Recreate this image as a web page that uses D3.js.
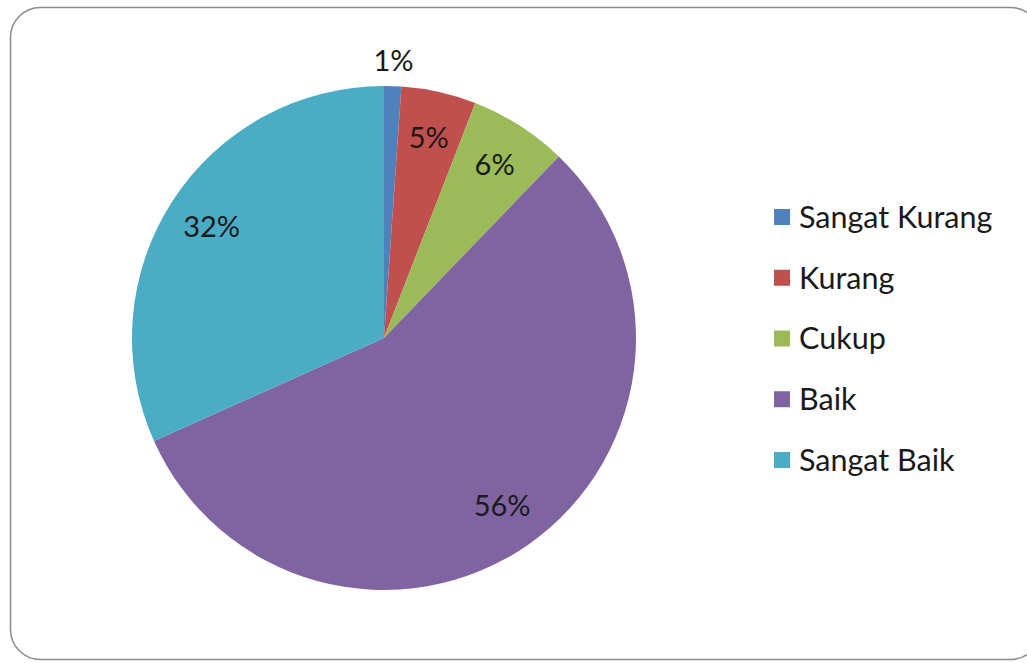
<!DOCTYPE html>
<html><head><meta charset="utf-8">
<script src="https://cdn.jsdelivr.net/npm/d3@7"></script>
<style>html,body{margin:0;padding:0;background:#fff;}svg{display:block;}</style>
</head><body>
<svg id="c" width="1027" height="663"></svg>
<script>
const categories = ["Sangat Kurang", "Kurang", "Cukup", "Baik", "Sangat Baik"];
const values = [1.1, 4.8, 6.3, 56.1, 31.7];
const colors = ["#4F81BD", "#C0504D", "#9BBB59", "#8064A2", "#4BACC6"];

const svg = d3.select("#c");
const font = "Lato, 'Open Sans', sans-serif";

svg.append("rect").attr("x", 10.5).attr("y", 7.5).attr("width", 1030).attr("height", 652)
  .attr("rx", 30).attr("ry", 30).attr("fill", "#fff").attr("stroke", "#8c8c8c").attr("stroke-width", 1.5);

const cx = 384, cy = 338, R = 252;
const total = d3.sum(values);
const pie = d3.pie().sort(null).value(d => d)(values);
const arc = d3.arc().innerRadius(0).outerRadius(R);
const g = svg.append("g").attr("transform", `translate(${cx},${cy})`);
g.selectAll("path").data(pie).join("path")
  .attr("d", arc).attr("fill", (d, i) => colors[i]);

g.selectAll("text").data(pie).join("text")
  .attr("transform", d => {
    const a = (d.startAngle + d.endAngle) / 2;
    const frac = (d.endAngle - d.startAngle) / (2 * Math.PI);
    const r = frac < 0.03 ? R * 1.1 : R * 0.815;
    return `translate(${Math.sin(a) * r},${-Math.cos(a) * r})`;
  })
  .attr("text-anchor", "middle").attr("dy", "0.36em")
  .attr("font-family", font).attr("font-size", 29).attr("fill", "#1a1a1a")
  .text(d => Math.round(d.value / total * 100) + "%");

const leg = svg.append("g");
const ly = d3.scalePoint().domain(categories).range([217, 460]);
categories.forEach((c, i) => {
  leg.append("rect").attr("x", 774).attr("y", ly(c) - 8).attr("width", 16).attr("height", 16).attr("fill", colors[i]);
  leg.append("text").attr("x", 799).attr("y", ly(c)).attr("dy", "0.36em")
    .attr("font-family", font).attr("font-size", 30.5).attr("fill", "#1a1a1a").text(c);
});
</script>
</body></html>
